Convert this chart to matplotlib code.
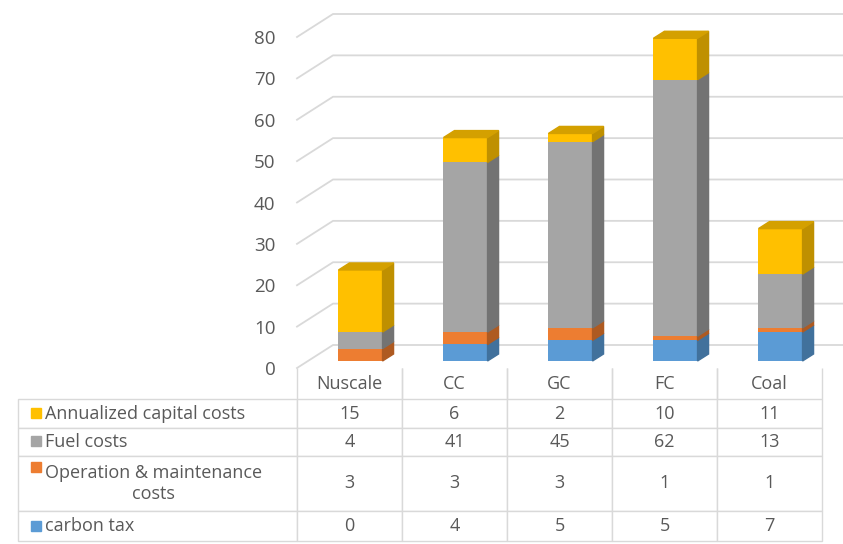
"""3D-style stacked cost bars with data table (Excel look)."""
import matplotlib
matplotlib.use('Agg')
import matplotlib.pyplot as plt
import matplotlib.transforms as mtrans
from matplotlib.patches import Polygon, Rectangle
from matplotlib.table import Table
import numpy as np

plt.rcParams['font.family'] = ['Open Sans', 'DejaVu Sans']

plants = ['Nuscale', 'CC', 'GC', 'FC', 'Coal']
carbon_tax = [0, 4, 5, 5, 7]
om_costs = [3, 3, 3, 1, 1]
fuel_costs = [4, 41, 45, 62, 13]
capital_costs = [15, 6, 2, 10, 11]

# stacking order bottom -> top
stack_vals = [carbon_tax, om_costs, fuel_costs, capital_costs]
front_cols = ['#5B9BD5', '#ED7D31', '#A5A5A5', '#FFC000']
side_cols = ['#41719C', '#AE5A21', '#737373', '#BF9000']
top_cols = ['#4F86BA', '#C96A28', '#8C8C8C', '#D4A000']

# table rows (top -> bottom)
row_labels = ['Annualized capital costs', 'Fuel costs',
              'Operation & maintenance\ncosts', 'carbon tax']
row_vals = [capital_costs, fuel_costs, om_costs, carbon_tax]
row_cols = ['#FFC000', '#A5A5A5', '#ED7D31', '#5B9BD5']
yticks = list(range(0, 90, 10))

TXT = '#595959'
GRID = '#d9d9d9'

W, H = 843, 544
AX_W, AX_H = 525, 331
LAB_W, COL_W = 279, 105
fig = plt.figure(figsize=(W / 100, H / 100), dpi=100)
ax = fig.add_axes([297 / W, 1 - 368 / H, AX_W / W, AX_H / H])
ax.set_xlim(-0.5, 4.5)
ax.set_ylim(0, 80)
ax.patch.set_visible(False)
for s in ax.spines.values():
    s.set_visible(False)
ax.set_xticks([])
ax.set_yticks(yticks)
ax.tick_params(axis='y', length=0, pad=15.5, labelsize=13.5, labelcolor=TXT)

# pixel -> data units
px_x = 5 / AX_W
px_y = 80 / AX_H

# back wall + side wall gridlines
wdx, wdy = 36 * px_x, 23 * px_y
for v in yticks:
    ax.plot([-0.5, -0.5 + wdx, 5.0], [v, v + wdy, v + wdy],
            color=GRID, lw=1.3, clip_on=False, zorder=1)

# bars, pushed back into the depth of the chart
front = ax.transData + mtrans.ScaledTranslation(0.11, 0.07, fig.dpi_scale_trans)
bw = 0.42
ddx, ddy = 11 * px_x, 7 * px_y
x = np.arange(len(plants))
cum = np.zeros(len(plants))
tops = np.array([sum(v) for v in zip(*stack_vals)])
for vals, fc, sc, tc in zip(stack_vals, front_cols, side_cols, top_cols):
    vals = np.array(vals, dtype=float)
    ax.bar(x, vals, bw, bottom=cum, color=fc, transform=front, zorder=3)
    for i in x:
        if vals[i] == 0:
            continue
        b, t = cum[i], cum[i] + vals[i]
        x0, x1 = i - bw / 2, i + bw / 2
        ax.add_patch(Polygon([(x1, b), (x1 + ddx, b + ddy), (x1 + ddx, t + ddy), (x1, t)],
                             closed=True, color=sc, transform=front, zorder=3, clip_on=False))
        if t == tops[i]:
            ax.add_patch(Polygon([(x0, t), (x0 + ddx, t + ddy), (x1 + ddx, t + ddy), (x1, t)],
                                 closed=True, color=tc, transform=front, zorder=3, clip_on=False))
    cum += vals

# data table under the plot; column 0 holds the series names
row_h = [31, 29, 28, 55, 30]
tab = Table(ax, bbox=[-LAB_W / AX_W, -sum(row_h) / AX_H,
                      (LAB_W + 5 * COL_W) / AX_W, sum(row_h) / AX_H])
header = [''] + plants
body = [[lab] + [str(v) for v in vals] for lab, vals in zip(row_labels, row_vals)]
for r, row in enumerate([header] + body):
    for c, txt in enumerate(row):
        w = (LAB_W if c == 0 else COL_W) / AX_W
        cell = tab.add_cell(r, c, w, row_h[r] / AX_H, text=txt,
                            loc='left' if (c == 0 and r > 0) else 'center',
                            edgecolor=GRID)
        cell.set_linewidth(1.0)
        cell.get_text().set_color(TXT)
        cell.get_text().set_fontsize(13)
        if r == 0:
            cell.visible_edges = 'open' if c == 0 else 'LR'
        if c == 0:
            cell.PAD = 27 / LAB_W
            cell.get_text().set_multialignment('center')
tab.auto_set_font_size(False)
tab.set_fontsize(13)
ax.add_table(tab)

# legend keys in the row label cells
key_y = [413, 441, 467, 526]
for y, col in zip(key_y, row_cols):
    fig.add_artist(Rectangle((31 / W, 1 - (y + 5) / H), 10 / W, 10 / H,
                             transform=fig.transFigure, color=col))

fig.savefig('out.png', dpi=100)
